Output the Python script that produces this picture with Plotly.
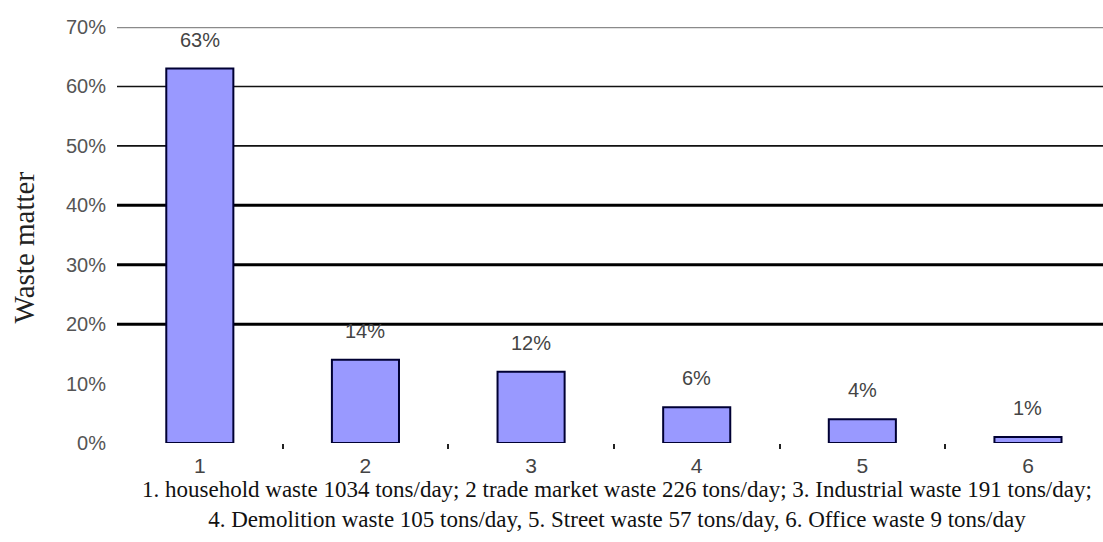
import plotly.graph_objects as go

categories = ["1", "2", "3", "4", "5", "6"]
shares = [63, 14, 12, 6, 4, 1]
label_texts = ["63%", "14%", "12%", "6%", "4%", "1%"]
y_ticks = [0, 10, 20, 30, 40, 50, 60, 70]
y_tick_text = [f"{v}%" for v in y_ticks]
grid_levels = [20, 30, 40, 50, 60, 70]
grid_widths = [3, 3, 3, 1.6, 1.6, 2.5]
grid_colors = ["#000000", "#000000", "#000000", "#111111", "#111111", "#8a8a8a"]
footnote = ("1. household waste 1034 tons/day; 2 trade market waste 226 tons/day; 3. Industrial waste 191 tons/day;<br>"
            "4. Demolition waste 105 tons/day, 5. Street waste 57 tons/day, 6. Office waste 9 tons/day")

xpos = list(range(1, len(categories) + 1))
boundaries = [p + 0.5 for p in xpos[:-1]]

fig = go.Figure()
fig.add_trace(go.Bar(
    x=xpos, y=shares, width=0.405,
    marker=dict(color="#9999ff", line=dict(color="#000033", width=2)),
    hoverinfo="skip", showlegend=False,
))

for lvl, w, c in zip(grid_levels, grid_widths, grid_colors):
    fig.add_shape(type="line", xref="paper", x0=0, x1=1, yref="y", y0=lvl, y1=lvl,
                  line=dict(color=c, width=w), layer="below")

for x, v, t in zip(xpos, shares, label_texts):
    fig.add_annotation(x=x, y=v, text=t, showarrow=False, yshift=29,
                       font=dict(family="Liberation Sans, Arial", size=20, color="#444444"))

fig.add_annotation(xref="paper", yref="paper", x=-0.094, y=0.471, xanchor="center", yanchor="middle",
                   text="Waste matter", textangle=-90, showarrow=False,
                   font=dict(family="Liberation Serif, Times New Roman", size=29, color="#222222"))

fig.add_annotation(xref="paper", yref="paper", x=0.507, y=-0.078, yanchor="top", xanchor="center",
                   text=footnote, showarrow=False, align="center",
                   font=dict(family="Liberation Serif, Times New Roman", size=23, color="#111111"))

fig.update_layout(
    width=1103, height=542,
    margin=dict(l=117, r=0, t=27, b=99),
    plot_bgcolor="white", paper_bgcolor="white",
    xaxis=dict(range=[0.5, 6.453], tickvals=xpos, ticktext=categories, showgrid=False,
               zeroline=False, showline=False, ticks="", ticklabelstandoff=8,
               tickfont=dict(family="Liberation Sans, Arial", size=21, color="#444444"),
               minor=dict(tickmode="array", tickvals=boundaries, ticks="outside", ticklen=5,
                          tickwidth=2, tickcolor="#222222", showgrid=False)),
    yaxis=dict(range=[0, 70], tickvals=y_ticks, ticktext=y_tick_text, showgrid=False,
               zeroline=False, showline=False, ticks="", ticklabelstandoff=10,
               tickfont=dict(family="Liberation Sans, Arial", size=20, color="#555555")),
)

fig.write_html("out.html")
